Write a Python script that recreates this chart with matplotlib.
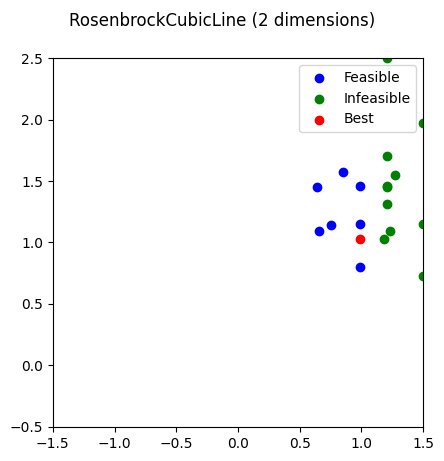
import matplotlib
matplotlib.use("Agg")
import matplotlib.pyplot as plt

feas_x = [0.64, 0.85, 0.99, 0.66, 0.75, 0.99, 0.99]
feas_y = [1.455, 1.57, 1.46, 1.09, 1.14, 1.15, 0.80]
inf_x = [1.21, 1.5, 1.21, 1.27, 1.21, 1.21, 1.21, 1.5, 1.18, 1.23, 1.5]
inf_y = [2.5, 1.97, 1.70, 1.545, 1.46, 1.45, 1.31, 1.15, 1.03, 1.09, 0.73]
best_x = [0.99]
best_y = [1.03]

fig = plt.figure(figsize=(4.44, 4.61), dpi=100)
ax = fig.add_axes([0.119, 0.074, 0.834, 0.8])
ax.scatter(feas_x, feas_y, c="blue", label="Feasible")
ax.scatter(inf_x, inf_y, c="green", label="Infeasible")
ax.scatter(best_x, best_y, c="red", label="Best")
ax.set_xlim(-1.5, 1.5)
ax.set_ylim(-0.5, 2.5)
ax.legend(loc="upper right")
fig.suptitle("RosenbrockCubicLine (2 dimensions)", y=0.975)
fig.savefig("out.png")
